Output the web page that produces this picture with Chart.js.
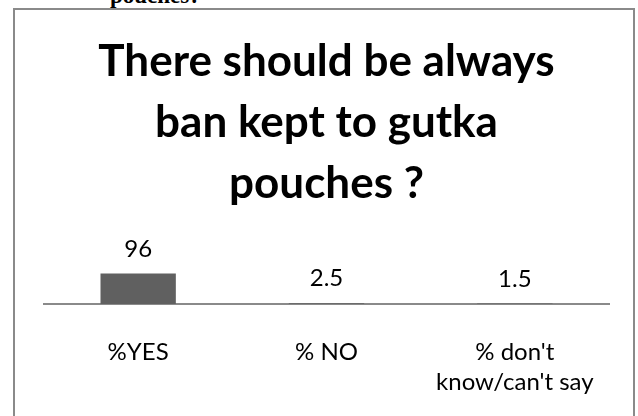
<!DOCTYPE html>
<html>
<head>
<meta charset="utf-8">
<script src="https://cdn.jsdelivr.net/npm/chart.js@4/dist/chart.umd.min.js"></script>
<style>
  html, body { margin: 0; padding: 0; background: #ffffff; width: 638px; height: 416px; overflow: hidden; }
  #wrap { position: absolute; left: 0; top: 0; width: 638px; height: 416px; }
  #frame { position: absolute; left: 13px; top: 8px; width: 622px; height: 440px; border: 2px solid #8a8a8a; box-sizing: border-box; pointer-events: none; }
  #above { position: absolute; left: 110px; top: -16px; font-family: "Liberation Serif", serif; font-weight: bold; font-size: 23px; line-height: 23px; color: #000; white-space: nowrap; }
  canvas { position: absolute; left: 0; top: 0; }
</style>
</head>
<body>
<div id="wrap">
  <div id="above">pouches?</div>
  <div id="frame"></div>
  <canvas id="c" width="638" height="416"></canvas>
</div>
<script>
const categories = ['%YES', '% NO', ["% don't", "know/can't say"]];
const values = [96, 2.5, 1.5];
const titleLines = ['There should be always', 'ban kept to gutka', 'pouches ?'];

const valueLabels = {
  id: 'valueLabels',
  afterDatasetsDraw(chart) {
    const ctx = chart.ctx;
    const meta = chart.getDatasetMeta(0);
    ctx.save();
    ctx.font = '24px Lato';
    ctx.fillStyle = '#000000';
    ctx.textAlign = 'center';
    ctx.textBaseline = 'alphabetic';
    meta.data.forEach((el, i) => {
      ctx.fillText(String(values[i]), el.x, el.y - 17);
    });
    ctx.restore();
  }
};

new Chart(document.getElementById('c'), {
  type: 'bar',
  data: {
    labels: categories,
    datasets: [{
      data: values,
      backgroundColor: '#606060',
      borderWidth: 0,
      barPercentage: 0.4,
      categoryPercentage: 1.0
    }]
  },
  options: {
    responsive: false,
    animation: false,
    devicePixelRatio: 1,
    layout: { padding: { left: 44, right: 29, top: 31, bottom: -14 } },
    plugins: {
      legend: { display: false },
      tooltip: { enabled: false },
      title: {
        display: true,
        text: titleLines,
        color: '#000000',
        font: { family: 'Lato', weight: 'bold', size: 44, lineHeight: 1.39 },
        padding: { top: 0, bottom: 26 }
      }
    },
    scales: {
      x: {
        grid: { display: false, drawTicks: false },
        border: { display: true, color: '#8a8a8a', width: 2 },
        ticks: {
          color: '#000000',
          font: { family: 'Lato', size: 24, lineHeight: 1.25 },
          padding: 33,
          maxRotation: 0,
          autoSkip: false
        }
      },
      y: {
        display: false,
        min: 0,
        max: 200
      }
    }
  },
  plugins: [valueLabels]
});
</script>
</body>
</html>
